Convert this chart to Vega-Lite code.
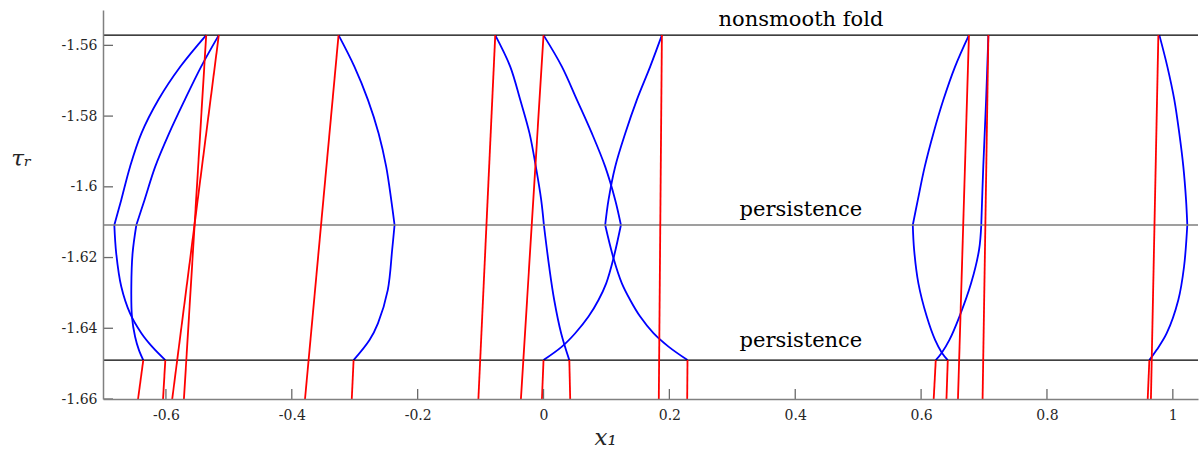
{
  "$schema": "https://vega.github.io/schema/vega-lite/v6.json",
  "width": 1095,
  "height": 389,
  "autosize": "none",
  "padding": {"left": 103, "top": 10, "right": 2, "bottom": 52},
  "background": "white",
  "config": {"view": {"stroke": null}, "font": "DejaVu Serif"},
  "datasets": {
    "xticks": [{"x": -0.6}, {"x": -0.4}, {"x": -0.2}, {"x": 0}, {"x": 0.2}, {"x": 0.4}, {"x": 0.6}, {"x": 0.8}, {"x": 1}],
    "yticks": [{"y": -1.66}, {"y": -1.64}, {"y": -1.62}, {"y": -1.6}, {"y": -1.58}, {"y": -1.56}],
    "hlines": [
      {"line": "nonsmooth fold", "y": -1.5571},
      {"line": "persistence upper", "y": -1.6108},
      {"line": "persistence lower", "y": -1.649}
    ],
    "labels": [
      {"label": "nonsmooth fold", "x": 0.409, "y": -1.5545},
      {"label": "persistence", "x": 0.409, "y": -1.6082},
      {"label": "persistence", "x": 0.409, "y": -1.6452}
    ],
    "curves": [
      {"s": "A1", "i": 0, "x": -0.536, "y": -1.5571},
      {"s": "A1", "i": 1, "x": -0.577, "y": -1.566},
      {"s": "A1", "i": 2, "x": -0.612, "y": -1.5754},
      {"s": "A1", "i": 3, "x": -0.639, "y": -1.5849},
      {"s": "A1", "i": 4, "x": -0.657, "y": -1.5943},
      {"s": "A1", "i": 5, "x": -0.671, "y": -1.6037},
      {"s": "A1", "i": 6, "x": -0.682, "y": -1.6108},
      {"s": "A2", "i": 0, "x": -0.682, "y": -1.6108},
      {"s": "A2", "i": 1, "x": -0.679, "y": -1.6188},
      {"s": "A2", "i": 2, "x": -0.671, "y": -1.6282},
      {"s": "A2", "i": 3, "x": -0.657, "y": -1.6358},
      {"s": "A2", "i": 4, "x": -0.639, "y": -1.6414},
      {"s": "A2", "i": 5, "x": -0.622, "y": -1.6452},
      {"s": "A2", "i": 6, "x": -0.601, "y": -1.649},

      {"s": "B1", "i": 0, "x": -0.516, "y": -1.5571},
      {"s": "B1", "i": 1, "x": -0.544, "y": -1.566},
      {"s": "B1", "i": 2, "x": -0.570, "y": -1.5754},
      {"s": "B1", "i": 3, "x": -0.595, "y": -1.5849},
      {"s": "B1", "i": 4, "x": -0.617, "y": -1.5943},
      {"s": "B1", "i": 5, "x": -0.634, "y": -1.6037},
      {"s": "B1", "i": 6, "x": -0.647, "y": -1.6108},
      {"s": "B2", "i": 0, "x": -0.647, "y": -1.6108},
      {"s": "B2", "i": 1, "x": -0.653, "y": -1.6188},
      {"s": "B2", "i": 2, "x": -0.655, "y": -1.6282},
      {"s": "B2", "i": 3, "x": -0.654, "y": -1.6367},
      {"s": "B2", "i": 4, "x": -0.649, "y": -1.6424},
      {"s": "B2", "i": 5, "x": -0.643, "y": -1.6461},
      {"s": "B2", "i": 6, "x": -0.636, "y": -1.649},

      {"s": "C1", "i": 0, "x": -0.3257, "y": -1.5571},
      {"s": "C1", "i": 1, "x": -0.3005, "y": -1.566},
      {"s": "C1", "i": 2, "x": -0.279, "y": -1.5754},
      {"s": "C1", "i": 3, "x": -0.262, "y": -1.5849},
      {"s": "C1", "i": 4, "x": -0.250, "y": -1.5943},
      {"s": "C1", "i": 5, "x": -0.242, "y": -1.6037},
      {"s": "C1", "i": 6, "x": -0.2367, "y": -1.6108},
      {"s": "C2", "i": 0, "x": -0.2367, "y": -1.6108},
      {"s": "C2", "i": 1, "x": -0.2405, "y": -1.6178},
      {"s": "C2", "i": 2, "x": -0.2475, "y": -1.6292},
      {"s": "C2", "i": 3, "x": -0.2631, "y": -1.6386},
      {"s": "C2", "i": 4, "x": -0.2765, "y": -1.6433},
      {"s": "C2", "i": 5, "x": -0.3018, "y": -1.649},

      {"s": "D1", "i": 0, "x": -0.0767, "y": -1.5571},
      {"s": "D1", "i": 1, "x": -0.0529, "y": -1.566},
      {"s": "D1", "i": 2, "x": -0.037, "y": -1.5754},
      {"s": "D1", "i": 3, "x": -0.0222, "y": -1.5849},
      {"s": "D1", "i": 4, "x": -0.0122, "y": -1.5943},
      {"s": "D1", "i": 5, "x": -0.0037, "y": -1.6037},
      {"s": "D1", "i": 6, "x": 0.0006, "y": -1.6108},
      {"s": "D2", "i": 0, "x": 0.0006, "y": -1.6108},
      {"s": "D2", "i": 1, "x": 0.009, "y": -1.6226},
      {"s": "D2", "i": 2, "x": 0.017, "y": -1.632},
      {"s": "D2", "i": 3, "x": 0.028, "y": -1.6414},
      {"s": "D2", "i": 4, "x": 0.041, "y": -1.649},

      {"s": "E1", "i": 0, "x": 0.0, "y": -1.5571},
      {"s": "E1", "i": 1, "x": 0.0292, "y": -1.566},
      {"s": "E1", "i": 2, "x": 0.0531, "y": -1.5754},
      {"s": "E1", "i": 3, "x": 0.0769, "y": -1.5849},
      {"s": "E1", "i": 4, "x": 0.098, "y": -1.5943},
      {"s": "E1", "i": 5, "x": 0.1139, "y": -1.6037},
      {"s": "E1", "i": 6, "x": 0.123, "y": -1.6108},
      {"s": "E2", "i": 0, "x": 0.123, "y": -1.6108},
      {"s": "E2", "i": 1, "x": 0.1112, "y": -1.6202},
      {"s": "E2", "i": 2, "x": 0.0996, "y": -1.6273},
      {"s": "E2", "i": 3, "x": 0.0874, "y": -1.632},
      {"s": "E2", "i": 4, "x": 0.0715, "y": -1.6367},
      {"s": "E2", "i": 5, "x": 0.0504, "y": -1.6414},
      {"s": "E2", "i": 6, "x": 0.0292, "y": -1.6452},
      {"s": "E2", "i": 7, "x": 0.0, "y": -1.649},

      {"s": "F1", "i": 0, "x": 0.1881, "y": -1.5571},
      {"s": "F1", "i": 1, "x": 0.1695, "y": -1.566},
      {"s": "F1", "i": 2, "x": 0.1483, "y": -1.5754},
      {"s": "F1", "i": 3, "x": 0.1298, "y": -1.5849},
      {"s": "F1", "i": 4, "x": 0.1139, "y": -1.5943},
      {"s": "F1", "i": 5, "x": 0.1033, "y": -1.6037},
      {"s": "F1", "i": 6, "x": 0.098, "y": -1.6108},
      {"s": "F2", "i": 0, "x": 0.098, "y": -1.6108},
      {"s": "F2", "i": 1, "x": 0.1112, "y": -1.6202},
      {"s": "F2", "i": 2, "x": 0.1245, "y": -1.6273},
      {"s": "F2", "i": 3, "x": 0.1377, "y": -1.632},
      {"s": "F2", "i": 4, "x": 0.1536, "y": -1.6367},
      {"s": "F2", "i": 5, "x": 0.1747, "y": -1.6414},
      {"s": "F2", "i": 6, "x": 0.1986, "y": -1.6452},
      {"s": "F2", "i": 7, "x": 0.2288, "y": -1.649},

      {"s": "G1", "i": 0, "x": 0.676, "y": -1.5571},
      {"s": "G1", "i": 1, "x": 0.654, "y": -1.566},
      {"s": "G1", "i": 2, "x": 0.6354, "y": -1.5754},
      {"s": "G1", "i": 3, "x": 0.6195, "y": -1.5849},
      {"s": "G1", "i": 4, "x": 0.6058, "y": -1.5943},
      {"s": "G1", "i": 5, "x": 0.5948, "y": -1.6037},
      {"s": "G1", "i": 6, "x": 0.5868, "y": -1.6108},
      {"s": "G2", "i": 0, "x": 0.5868, "y": -1.6108},
      {"s": "G2", "i": 1, "x": 0.5889, "y": -1.6178},
      {"s": "G2", "i": 2, "x": 0.5957, "y": -1.6273},
      {"s": "G2", "i": 3, "x": 0.609, "y": -1.6367},
      {"s": "G2", "i": 4, "x": 0.6222, "y": -1.6433},
      {"s": "G2", "i": 5, "x": 0.6329, "y": -1.6469},
      {"s": "G2", "i": 6, "x": 0.6424, "y": -1.649},

      {"s": "H1", "i": 0, "x": 0.7069, "y": -1.5571},
      {"s": "H1", "i": 1, "x": 0.7033, "y": -1.5754},
      {"s": "H1", "i": 2, "x": 0.6988, "y": -1.5943},
      {"s": "H1", "i": 3, "x": 0.6956, "y": -1.6108},
      {"s": "H2", "i": 0, "x": 0.6956, "y": -1.6108},
      {"s": "H2", "i": 1, "x": 0.6921, "y": -1.6178},
      {"s": "H2", "i": 2, "x": 0.6794, "y": -1.6273},
      {"s": "H2", "i": 3, "x": 0.6609, "y": -1.6367},
      {"s": "H2", "i": 4, "x": 0.645, "y": -1.6433},
      {"s": "H2", "i": 5, "x": 0.6329, "y": -1.6469},
      {"s": "H2", "i": 6, "x": 0.6233, "y": -1.649},

      {"s": "I1", "i": 0, "x": 0.9786, "y": -1.5571},
      {"s": "I1", "i": 1, "x": 0.9913, "y": -1.566},
      {"s": "I1", "i": 2, "x": 1.0024, "y": -1.5754},
      {"s": "I1", "i": 3, "x": 1.0103, "y": -1.5849},
      {"s": "I1", "i": 4, "x": 1.0167, "y": -1.5943},
      {"s": "I1", "i": 5, "x": 1.021, "y": -1.6037},
      {"s": "I1", "i": 6, "x": 1.023, "y": -1.6108},
      {"s": "I2", "i": 0, "x": 1.023, "y": -1.6108},
      {"s": "I2", "i": 1, "x": 1.0178, "y": -1.6226},
      {"s": "I2", "i": 2, "x": 1.0087, "y": -1.632},
      {"s": "I2", "i": 3, "x": 0.9903, "y": -1.6414},
      {"s": "I2", "i": 4, "x": 0.9744, "y": -1.6461},
      {"s": "I2", "i": 5, "x": 0.9627, "y": -1.649}
    ],
    "trajectories": [
      {"s": "r1", "i": 0, "x": -0.536, "y": -1.5571},
      {"s": "r1", "i": 1, "x": -0.5714, "y": -1.66},
      {"s": "r2", "i": 0, "x": -0.516, "y": -1.5571},
      {"s": "r2", "i": 1, "x": -0.590, "y": -1.66},
      {"s": "r3", "i": 0, "x": -0.636, "y": -1.649},
      {"s": "r3", "i": 1, "x": -0.6443, "y": -1.66},
      {"s": "r4", "i": 0, "x": -0.601, "y": -1.649},
      {"s": "r4", "i": 1, "x": -0.6046, "y": -1.66},
      {"s": "r5", "i": 0, "x": -0.3257, "y": -1.5571},
      {"s": "r5", "i": 1, "x": -0.379, "y": -1.66},
      {"s": "r6", "i": 0, "x": -0.3018, "y": -1.649},
      {"s": "r6", "i": 1, "x": -0.3047, "y": -1.66},
      {"s": "r7", "i": 0, "x": -0.0767, "y": -1.5571},
      {"s": "r7", "i": 1, "x": -0.1035, "y": -1.66},
      {"s": "r8", "i": 0, "x": 0.041, "y": -1.649},
      {"s": "r8", "i": 1, "x": 0.0424, "y": -1.66},
      {"s": "r9", "i": 0, "x": 0.0, "y": -1.5571},
      {"s": "r9", "i": 1, "x": -0.0359, "y": -1.66},
      {"s": "r10", "i": 0, "x": 0.0, "y": -1.649},
      {"s": "r10", "i": 1, "x": -0.0025, "y": -1.66},
      {"s": "r11", "i": 0, "x": 0.1881, "y": -1.5571},
      {"s": "r11", "i": 1, "x": 0.1832, "y": -1.66},
      {"s": "r12", "i": 0, "x": 0.2288, "y": -1.649},
      {"s": "r12", "i": 1, "x": 0.2283, "y": -1.66},
      {"s": "r13", "i": 0, "x": 0.676, "y": -1.5571},
      {"s": "r13", "i": 1, "x": 0.6586, "y": -1.66},
      {"s": "r14", "i": 0, "x": 0.7069, "y": -1.5571},
      {"s": "r14", "i": 1, "x": 0.6977, "y": -1.66},
      {"s": "r15", "i": 0, "x": 0.6424, "y": -1.649},
      {"s": "r15", "i": 1, "x": 0.6403, "y": -1.66},
      {"s": "r16", "i": 0, "x": 0.6233, "y": -1.649},
      {"s": "r16", "i": 1, "x": 0.620, "y": -1.66},
      {"s": "r17", "i": 0, "x": 0.977, "y": -1.5571},
      {"s": "r17", "i": 1, "x": 0.9652, "y": -1.66},
      {"s": "r18", "i": 0, "x": 0.9627, "y": -1.649},
      {"s": "r18", "i": 1, "x": 0.9601, "y": -1.66}
    ]
  },
  "resolve": {"scale": {"color": "independent"}, "axis": {"x": "independent", "y": "independent"}},
  "layer": [
    {
      "data": {"name": "curves"},
      "mark": {"type": "line", "color": "#0000ff", "strokeWidth": 1.8, "interpolate": "catmull-rom"},
      "encoding": {
        "x": {
          "field": "x", "type": "quantitative",
          "scale": {"domain": [-0.7, 1.04], "nice": false, "zero": false},
          "axis": {
            "orient": "bottom",
            "title": "x₁", "titleFont": "DejaVu Serif", "titleFontStyle": "italic", "titleFontWeight": "normal",
            "titleFontSize": 23, "titleColor": "#262626",
            "titleX": 502, "titleY": 38, "titleAlign": "center", "titleBaseline": "middle",
            "values": [-0.6, -0.4, -0.2, 0, 0.2, 0.4, 0.6, 0.8, 1],
            "format": ".1~f", "labelExpr": "replace(datum.label, '\u2212', '-')",
            "labelFont": "DejaVu Serif", "labelFontSize": 14, "labelColor": "#262626",
            "labelPadding": 9, "grid": false, "ticks": false, "zindex": 1,
            "domainColor": "#808080", "domainWidth": 1.5
          }
        },
        "y": {
          "field": "y", "type": "quantitative",
          "scale": {"domain": [-1.66, -1.55], "nice": false, "zero": false},
          "axis": {
            "orient": "left",
            "title": "τᵣ", "titleFont": "DejaVu Serif", "titleFontStyle": "italic", "titleFontWeight": "normal",
            "titleFontSize": 23, "titleColor": "#262626", "titleAngle": 0,
            "titleX": -82, "titleY": 148, "titleAlign": "center", "titleBaseline": "middle",
            "values": [-1.66, -1.64, -1.62, -1.6, -1.58, -1.56],
            "format": ".2~f", "labelExpr": "replace(datum.label, '\u2212', '-')",
            "labelFont": "DejaVu Serif", "labelFontSize": 14, "labelColor": "#262626",
            "labelPadding": 6, "grid": false, "ticks": false, "zindex": 1,
            "domainColor": "#808080", "domainWidth": 1.5
          }
        },
        "detail": {"field": "s"},
        "order": {"field": "i", "type": "quantitative"}
      }
    },
    {
      "data": {"name": "hlines"},
      "mark": {"type": "rule", "strokeWidth": 1.3},
      "encoding": {
        "y": {"field": "y", "type": "quantitative", "axis": null},
        "color": {
          "field": "line", "type": "nominal",
          "scale": {"domain": ["nonsmooth fold", "persistence upper", "persistence lower"], "range": ["#000000", "#7f7f7f", "#000000"]},
          "legend": null
        }
      }
    },
    {
      "mark": {"type": "rule", "color": "#1fae1f", "strokeWidth": 1.6},
      "encoding": {"x": {"datum": 0, "axis": null}}
    },
    {
      "data": {"name": "trajectories"},
      "mark": {"type": "line", "color": "#ff0000", "strokeWidth": 1.8},
      "encoding": {
        "x": {"field": "x", "type": "quantitative", "axis": null},
        "y": {"field": "y", "type": "quantitative", "axis": null},
        "detail": {"field": "s"},
        "order": {"field": "i", "type": "quantitative"}
      }
    },
    {
      "data": {"name": "xticks"},
      "mark": {"type": "tick", "orient": "vertical", "size": 20, "thickness": 1.3, "color": "#6a6a6a", "clip": true, "opacity": 1},
      "encoding": {
        "x": {"field": "x", "type": "quantitative", "axis": null},
        "y": {"datum": -1.66, "axis": null}
      }
    },
    {
      "data": {"name": "yticks"},
      "mark": {"type": "tick", "orient": "horizontal", "size": 20, "thickness": 1.3, "color": "#6a6a6a", "clip": true, "opacity": 1},
      "encoding": {
        "y": {"field": "y", "type": "quantitative", "axis": null},
        "x": {"datum": -0.7, "axis": null}
      }
    },
    {
      "data": {"name": "labels"},
      "mark": {"type": "text", "font": "DejaVu Serif", "fontSize": 21, "color": "#000000", "align": "center", "baseline": "alphabetic"},
      "encoding": {
        "x": {"field": "x", "type": "quantitative", "axis": null},
        "y": {"field": "y", "type": "quantitative", "axis": null},
        "text": {"field": "label"}
      }
    }
  ]
}
